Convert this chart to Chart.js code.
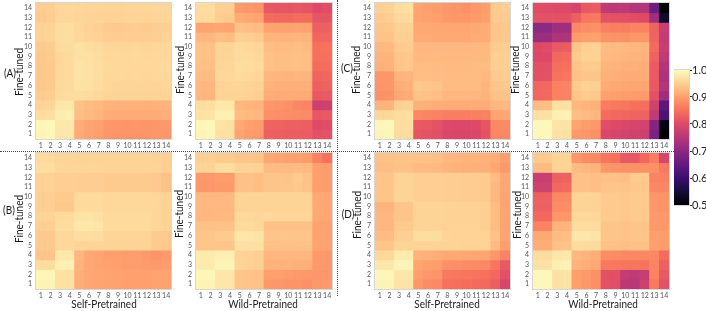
<!DOCTYPE html>
<html>
<head>
<meta charset="utf-8">
<script src="https://cdn.jsdelivr.net/npm/chart.js@4/dist/chart.umd.min.js"></script>
<style>
  html, body { margin: 0; padding: 0; background: #fff; }
  #fig { position: relative; width: 706px; height: 311px; overflow: hidden; font-family: Lato, "Open Sans", sans-serif; color: #1a1a1a; }
  canvas { position: absolute; }
  .lbl { position: absolute; white-space: nowrap; font-size: 12px; line-height: 1; transform: translate(-50%, -50%) scaleX(0.83); }
  .rot { transform: translate(-50%, -50%) rotate(-90deg) scaleX(0.83); }
  .hline { position: absolute; left: 0; top: 151px; width: 680px; border-top: 1px dotted #444; }
  .vline { position: absolute; left: 337px; top: 0; height: 296px; border-left: 1px dotted #444; }
</style>
</head>
<body>
<div id="fig"></div>
<script>
// ── Data ────────────────────────────────────────────────────────────────────
// each matrix: rows from Fine-tuned layer 14 (top) down to layer 1 (bottom),
// columns = Pretrained layer 1..14
const xLabels   = ['1','2','3','4','5','6','7','8','9','10','11','12','13','14'];
const yTicks    = [1,2,3,4,5,6,7,8,9,10,11,12,13,14];
const cbarTicks = [0.5, 0.6, 0.7, 0.8, 0.9, 1.0];

const selfA = [
  [0.948,0.950,0.958,0.960,0.958,0.956,0.956,0.955,0.955,0.956,0.957,0.956,0.958,0.958],
  [0.945,0.948,0.958,0.960,0.957,0.955,0.955,0.952,0.953,0.954,0.955,0.955,0.957,0.957],
  [0.952,0.953,0.965,0.966,0.958,0.953,0.950,0.945,0.944,0.945,0.947,0.946,0.948,0.950],
  [0.953,0.954,0.965,0.966,0.960,0.955,0.953,0.948,0.947,0.948,0.949,0.948,0.950,0.952],
  [0.945,0.947,0.962,0.964,0.968,0.966,0.963,0.958,0.957,0.957,0.958,0.957,0.958,0.960],
  [0.943,0.945,0.960,0.962,0.970,0.968,0.965,0.960,0.959,0.958,0.959,0.958,0.959,0.960],
  [0.942,0.944,0.960,0.962,0.972,0.970,0.966,0.961,0.960,0.959,0.960,0.959,0.960,0.961],
  [0.942,0.944,0.960,0.962,0.972,0.970,0.966,0.960,0.959,0.958,0.959,0.958,0.959,0.960],
  [0.943,0.945,0.961,0.963,0.970,0.968,0.964,0.958,0.957,0.957,0.957,0.956,0.957,0.958],
  [0.946,0.948,0.962,0.964,0.965,0.963,0.960,0.956,0.955,0.955,0.955,0.954,0.955,0.956],
  [0.955,0.957,0.975,0.977,0.935,0.930,0.927,0.920,0.918,0.917,0.918,0.917,0.919,0.920],
  [0.965,0.967,0.982,0.984,0.932,0.927,0.924,0.915,0.913,0.912,0.913,0.912,0.914,0.916],
  [0.992,0.994,0.976,0.978,0.915,0.905,0.902,0.893,0.890,0.889,0.890,0.889,0.891,0.893],
  [0.990,0.992,0.975,0.976,0.913,0.903,0.900,0.890,0.888,0.887,0.888,0.888,0.890,0.892]
];

const wildA = [
  [0.965,0.965,0.950,0.948,0.895,0.890,0.888,0.818,0.815,0.815,0.818,0.815,0.800,0.805],
  [0.962,0.962,0.948,0.945,0.912,0.908,0.905,0.845,0.840,0.840,0.845,0.845,0.815,0.815],
  [0.905,0.905,0.908,0.905,0.935,0.932,0.930,0.905,0.903,0.903,0.905,0.903,0.830,0.830],
  [0.925,0.925,0.932,0.930,0.950,0.948,0.945,0.922,0.920,0.920,0.922,0.920,0.838,0.838],
  [0.935,0.935,0.955,0.955,0.962,0.960,0.958,0.932,0.930,0.930,0.932,0.930,0.850,0.852],
  [0.935,0.935,0.955,0.957,0.963,0.962,0.960,0.935,0.933,0.933,0.934,0.932,0.850,0.850],
  [0.934,0.934,0.957,0.958,0.966,0.965,0.962,0.935,0.933,0.933,0.934,0.932,0.845,0.845],
  [0.930,0.930,0.960,0.960,0.962,0.960,0.958,0.925,0.923,0.922,0.923,0.922,0.835,0.838],
  [0.925,0.925,0.955,0.956,0.957,0.955,0.953,0.920,0.918,0.917,0.918,0.917,0.830,0.832],
  [0.923,0.923,0.955,0.955,0.955,0.953,0.950,0.915,0.913,0.912,0.913,0.912,0.820,0.822],
  [0.965,0.967,0.976,0.976,0.925,0.922,0.920,0.890,0.888,0.885,0.875,0.872,0.775,0.778],
  [0.970,0.972,0.986,0.986,0.930,0.927,0.925,0.885,0.883,0.882,0.880,0.878,0.818,0.820],
  [0.992,0.994,0.972,0.970,0.910,0.900,0.898,0.835,0.832,0.830,0.830,0.828,0.800,0.805],
  [0.990,0.992,0.970,0.968,0.905,0.898,0.895,0.830,0.828,0.826,0.826,0.825,0.810,0.812]
];

const selfB = [
  [0.962,0.962,0.957,0.956,0.955,0.955,0.955,0.954,0.954,0.954,0.954,0.954,0.953,0.950],
  [0.966,0.966,0.958,0.957,0.956,0.956,0.956,0.955,0.955,0.955,0.955,0.955,0.954,0.950],
  [0.952,0.952,0.950,0.950,0.948,0.948,0.948,0.946,0.946,0.946,0.946,0.946,0.944,0.935],
  [0.952,0.952,0.950,0.950,0.948,0.948,0.948,0.946,0.946,0.946,0.946,0.946,0.944,0.935],
  [0.950,0.950,0.945,0.945,0.962,0.962,0.962,0.960,0.960,0.960,0.960,0.960,0.958,0.955],
  [0.950,0.950,0.943,0.943,0.962,0.962,0.962,0.960,0.960,0.960,0.960,0.960,0.958,0.955],
  [0.955,0.955,0.962,0.962,0.972,0.972,0.970,0.962,0.962,0.962,0.962,0.962,0.958,0.955],
  [0.950,0.950,0.965,0.965,0.976,0.976,0.974,0.962,0.962,0.962,0.962,0.962,0.958,0.955],
  [0.944,0.944,0.960,0.960,0.966,0.966,0.964,0.956,0.956,0.956,0.956,0.956,0.946,0.944],
  [0.944,0.944,0.960,0.960,0.956,0.956,0.956,0.954,0.954,0.954,0.954,0.954,0.945,0.943],
  [0.940,0.940,0.976,0.976,0.925,0.910,0.905,0.900,0.900,0.898,0.897,0.895,0.888,0.895],
  [0.965,0.965,0.986,0.986,0.920,0.910,0.905,0.902,0.900,0.898,0.897,0.896,0.895,0.897],
  [0.992,0.992,0.970,0.970,0.916,0.908,0.906,0.905,0.903,0.902,0.902,0.902,0.905,0.905],
  [0.990,0.990,0.970,0.970,0.915,0.907,0.905,0.903,0.902,0.900,0.900,0.900,0.903,0.903]
];

const wildB = [
  [0.950,0.950,0.945,0.945,0.940,0.940,0.938,0.908,0.905,0.902,0.900,0.898,0.868,0.852],
  [0.955,0.955,0.965,0.965,0.955,0.955,0.953,0.930,0.928,0.928,0.930,0.928,0.900,0.898],
  [0.893,0.893,0.897,0.897,0.935,0.935,0.933,0.940,0.940,0.938,0.945,0.935,0.900,0.898],
  [0.890,0.890,0.895,0.895,0.935,0.935,0.933,0.940,0.940,0.940,0.942,0.938,0.900,0.898],
  [0.925,0.925,0.925,0.925,0.955,0.955,0.955,0.955,0.955,0.955,0.955,0.955,0.910,0.908],
  [0.925,0.925,0.925,0.925,0.955,0.955,0.955,0.955,0.955,0.955,0.955,0.955,0.910,0.908],
  [0.925,0.925,0.927,0.927,0.960,0.960,0.958,0.960,0.958,0.958,0.958,0.958,0.910,0.908],
  [0.935,0.935,0.935,0.935,0.962,0.962,0.960,0.935,0.935,0.935,0.935,0.935,0.905,0.903],
  [0.940,0.940,0.945,0.945,0.975,0.975,0.972,0.940,0.940,0.940,0.940,0.940,0.905,0.903],
  [0.940,0.940,0.940,0.940,0.970,0.970,0.968,0.935,0.935,0.935,0.935,0.935,0.905,0.903],
  [0.980,0.980,0.985,0.985,0.955,0.952,0.950,0.925,0.925,0.925,0.925,0.925,0.895,0.893],
  [0.980,0.980,0.990,0.990,0.955,0.952,0.950,0.920,0.920,0.920,0.918,0.918,0.895,0.893],
  [0.992,0.992,0.975,0.975,0.940,0.938,0.935,0.900,0.900,0.898,0.895,0.893,0.890,0.890],
  [0.990,0.990,0.975,0.975,0.940,0.938,0.935,0.893,0.890,0.888,0.888,0.885,0.893,0.895]
];

const selfC = [
  [0.950,0.952,0.965,0.968,0.905,0.900,0.898,0.890,0.888,0.885,0.890,0.898,0.945,0.948],
  [0.945,0.948,0.960,0.962,0.905,0.902,0.900,0.893,0.892,0.892,0.895,0.900,0.945,0.946],
  [0.940,0.942,0.952,0.952,0.910,0.910,0.908,0.908,0.908,0.908,0.910,0.912,0.940,0.942],
  [0.937,0.938,0.950,0.950,0.912,0.912,0.910,0.910,0.910,0.910,0.912,0.913,0.940,0.942],
  [0.925,0.927,0.945,0.947,0.925,0.925,0.925,0.925,0.925,0.925,0.926,0.926,0.946,0.948],
  [0.920,0.922,0.940,0.942,0.926,0.927,0.927,0.926,0.926,0.926,0.927,0.927,0.950,0.950],
  [0.918,0.920,0.940,0.942,0.930,0.930,0.930,0.928,0.928,0.928,0.929,0.929,0.950,0.950],
  [0.890,0.892,0.920,0.922,0.932,0.932,0.931,0.930,0.930,0.930,0.930,0.925,0.945,0.947],
  [0.888,0.890,0.915,0.918,0.942,0.940,0.938,0.930,0.930,0.930,0.930,0.922,0.940,0.942],
  [0.885,0.887,0.910,0.913,0.937,0.935,0.933,0.925,0.925,0.925,0.925,0.920,0.935,0.937],
  [0.920,0.922,0.950,0.952,0.918,0.917,0.915,0.913,0.913,0.913,0.914,0.914,0.925,0.927],
  [0.958,0.960,0.965,0.966,0.875,0.872,0.868,0.865,0.865,0.865,0.866,0.868,0.905,0.908],
  [0.992,0.994,0.965,0.966,0.820,0.818,0.812,0.800,0.798,0.798,0.800,0.815,0.875,0.878],
  [0.990,0.992,0.963,0.964,0.815,0.813,0.808,0.795,0.793,0.793,0.795,0.812,0.873,0.876]
];

const wildC = [
  [0.805,0.803,0.800,0.800,0.790,0.820,0.825,0.760,0.758,0.758,0.745,0.745,0.660,0.500],
  [0.812,0.810,0.810,0.810,0.830,0.855,0.860,0.812,0.810,0.808,0.805,0.800,0.720,0.540],
  [0.700,0.700,0.720,0.722,0.875,0.882,0.885,0.868,0.866,0.865,0.870,0.870,0.832,0.770],
  [0.715,0.718,0.738,0.740,0.895,0.900,0.902,0.888,0.886,0.885,0.890,0.890,0.835,0.765],
  [0.800,0.802,0.822,0.825,0.940,0.950,0.952,0.930,0.928,0.926,0.925,0.922,0.842,0.770],
  [0.798,0.800,0.840,0.842,0.945,0.952,0.952,0.928,0.926,0.924,0.922,0.920,0.832,0.760],
  [0.808,0.810,0.848,0.850,0.940,0.945,0.945,0.922,0.920,0.918,0.917,0.915,0.822,0.745],
  [0.810,0.812,0.853,0.855,0.935,0.940,0.940,0.918,0.916,0.914,0.913,0.912,0.820,0.735],
  [0.838,0.840,0.868,0.870,0.945,0.952,0.950,0.912,0.910,0.908,0.907,0.906,0.820,0.745],
  [0.838,0.840,0.868,0.870,0.940,0.945,0.942,0.902,0.900,0.898,0.897,0.896,0.810,0.720],
  [0.930,0.932,0.968,0.970,0.925,0.922,0.918,0.862,0.858,0.855,0.850,0.848,0.780,0.640],
  [0.968,0.970,0.985,0.987,0.932,0.928,0.925,0.845,0.840,0.838,0.835,0.832,0.760,0.620],
  [0.995,0.996,0.972,0.972,0.905,0.898,0.893,0.805,0.800,0.795,0.790,0.785,0.690,0.515],
  [0.994,0.995,0.970,0.970,0.895,0.890,0.885,0.795,0.790,0.785,0.780,0.778,0.675,0.500]
];

const selfD = [
  [0.935,0.935,0.937,0.937,0.935,0.935,0.933,0.925,0.923,0.920,0.920,0.918,0.912,0.898],
  [0.933,0.933,0.935,0.935,0.928,0.928,0.926,0.922,0.920,0.918,0.918,0.916,0.908,0.893],
  [0.940,0.940,0.955,0.955,0.950,0.950,0.950,0.948,0.948,0.947,0.947,0.946,0.930,0.910],
  [0.940,0.940,0.955,0.955,0.950,0.950,0.950,0.948,0.948,0.947,0.947,0.946,0.925,0.908],
  [0.940,0.940,0.955,0.955,0.950,0.950,0.950,0.948,0.948,0.947,0.947,0.946,0.925,0.905],
  [0.922,0.922,0.940,0.940,0.955,0.955,0.955,0.953,0.953,0.952,0.952,0.950,0.930,0.905],
  [0.925,0.925,0.940,0.940,0.955,0.955,0.955,0.953,0.953,0.952,0.952,0.950,0.930,0.905],
  [0.925,0.925,0.945,0.945,0.955,0.955,0.955,0.953,0.953,0.952,0.952,0.950,0.930,0.905],
  [0.930,0.930,0.950,0.950,0.966,0.966,0.964,0.956,0.955,0.955,0.955,0.953,0.935,0.905],
  [0.940,0.940,0.955,0.955,0.955,0.955,0.955,0.955,0.954,0.953,0.953,0.952,0.930,0.900],
  [0.960,0.960,0.980,0.980,0.920,0.918,0.915,0.910,0.910,0.908,0.907,0.905,0.890,0.870],
  [0.975,0.975,0.990,0.990,0.905,0.900,0.897,0.885,0.883,0.880,0.878,0.876,0.855,0.820],
  [0.992,0.992,0.975,0.975,0.900,0.890,0.887,0.860,0.858,0.855,0.853,0.850,0.840,0.808],
  [0.990,0.990,0.972,0.972,0.890,0.880,0.877,0.850,0.848,0.845,0.843,0.840,0.828,0.790]
];

const wildD = [
  [0.945,0.945,0.955,0.955,0.890,0.880,0.875,0.855,0.850,0.820,0.818,0.840,0.862,0.790],
  [0.930,0.930,0.955,0.955,0.930,0.925,0.920,0.890,0.888,0.885,0.885,0.885,0.885,0.860],
  [0.772,0.772,0.830,0.832,0.935,0.935,0.932,0.935,0.935,0.932,0.945,0.945,0.870,0.868],
  [0.780,0.780,0.840,0.842,0.935,0.935,0.932,0.940,0.940,0.938,0.942,0.942,0.875,0.873],
  [0.830,0.830,0.875,0.877,0.955,0.955,0.953,0.945,0.945,0.943,0.945,0.945,0.890,0.888],
  [0.830,0.830,0.880,0.882,0.955,0.955,0.953,0.945,0.945,0.943,0.945,0.945,0.890,0.888],
  [0.840,0.840,0.890,0.892,0.960,0.960,0.958,0.945,0.945,0.943,0.945,0.945,0.895,0.893],
  [0.870,0.870,0.920,0.922,0.965,0.965,0.963,0.940,0.940,0.938,0.940,0.940,0.895,0.893],
  [0.910,0.910,0.930,0.932,0.975,0.975,0.972,0.940,0.940,0.938,0.940,0.940,0.900,0.898],
  [0.915,0.915,0.935,0.937,0.965,0.965,0.963,0.935,0.935,0.933,0.935,0.935,0.900,0.898],
  [0.965,0.965,0.975,0.977,0.925,0.920,0.915,0.880,0.878,0.875,0.875,0.873,0.875,0.845],
  [0.970,0.970,0.985,0.987,0.920,0.915,0.910,0.860,0.858,0.855,0.855,0.853,0.870,0.830],
  [0.995,0.995,0.970,0.972,0.900,0.895,0.885,0.810,0.808,0.765,0.760,0.770,0.870,0.820],
  [0.994,0.994,0.970,0.972,0.900,0.893,0.883,0.810,0.806,0.755,0.752,0.778,0.860,0.810]
];

// ── Colour map (magma, 0.5 → 1.0) ───────────────────────────────────────────
const MAGMA = ['#000004','#140e36','#3b0f70','#641a80','#8c2981','#b73779',
               '#de4968','#f7705c','#fe9f6d','#fecf92','#fcfdbf'];
const VMIN = 0.5, VMAX = 1.0;

function hexRgb(h) {
  return [1, 3, 5].map(i => parseInt(h.substr(i, 2), 16));
}
function magma(v) {
  const t = Math.min(1, Math.max(0, (v - VMIN) / (VMAX - VMIN))) * 10;
  const i = Math.min(9, Math.floor(t));
  const f = t - i;
  const a = hexRgb(MAGMA[i]), b = hexRgb(MAGMA[i + 1]);
  const c = a.map((x, k) => Math.round(x + (b[k] - x) * f));
  return `rgb(${c[0]},${c[1]},${c[2]})`;
}

// ── Layout ──────────────────────────────────────────────────────────────────
const fig = document.getElementById('fig');
const Y_AXIS_W = 30, X_AXIS_H = 14, PAD_TOP = 9, PAD_RIGHT = 4;

const panels = [
  { data: selfA, left: 36,  top: 3,   w: 135, h: 136 },
  { data: wildA, left: 196, top: 3,   w: 136, h: 136 },
  { data: selfC, left: 375, top: 3,   w: 135, h: 136 },
  { data: wildC, left: 533, top: 3,   w: 136, h: 136 },
  { data: selfB, left: 36,  top: 153, w: 135, h: 136 },
  { data: wildB, left: 196, top: 153, w: 136, h: 136 },
  { data: selfD, left: 375, top: 153, w: 135, h: 136 },
  { data: wildD, left: 533, top: 153, w: 136, h: 136 }
];

const texts = [
  { t: '(A)', x: 10,  y: 73 },  { t: '(C)', x: 347, y: 68 },
  { t: '(B)', x: 9,   y: 210 }, { t: '(D)', x: 348, y: 214 },
  { t: 'Fine-tuned', x: 19,  y: 72,  rot: true },
  { t: 'Fine-tuned', x: 180, y: 70,  rot: true },
  { t: 'Fine-tuned', x: 356, y: 70,  rot: true },
  { t: 'Fine-tuned', x: 515, y: 70,  rot: true },
  { t: 'Fine-tuned', x: 19,  y: 219, rot: true },
  { t: 'Fine-tuned', x: 179, y: 214, rot: true },
  { t: 'Fine-tuned', x: 357, y: 215, rot: true },
  { t: 'Fine-tuned', x: 517, y: 215, rot: true },
  { t: 'Self-Pretrained', x: 104, y: 304 },
  { t: 'Wild-Pretrained', x: 263, y: 304 },
  { t: 'Self-Pretrained', x: 447, y: 304 },
  { t: 'Wild-Pretrained', x: 603, y: 304 }
];

// thin grey frame round each plot area
const framePlugin = {
  id: 'frame',
  afterDraw(chart) {
    const { ctx, chartArea: a } = chart;
    ctx.save();
    ctx.strokeStyle = '#d6d6d6';
    ctx.lineWidth = 1;
    ctx.strokeRect(Math.round(a.left) - 0.5, Math.round(a.top) - 0.5,
                   Math.round(a.width) + 1, Math.round(a.height) + 1);
    ctx.restore();
  }
};

function addCanvas(left, top, w, h) {
  const c = document.createElement('canvas');
  c.width = w; c.height = h;
  c.style.left = left + 'px'; c.style.top = top + 'px';
  c.style.width = w + 'px'; c.style.height = h + 'px';
  fig.appendChild(c);
  return c;
}

// ── Heatmaps: one floating-bar dataset per fine-tuned row ───────────────────
function heatmap(p) {
  const cv = addCanvas(p.left - Y_AXIS_W, p.top - PAD_TOP,
                       Y_AXIS_W + p.w + PAD_RIGHT, PAD_TOP + p.h + X_AXIS_H);
  const n = p.data.length;
  const datasets = p.data.map((row, r) => {
    const layer = n - r;
    return {
      data: row.map(() => [layer - 0.5, layer + 0.5]),
      backgroundColor: row.map(magma),
      borderWidth: 0,
      barPercentage: 1,
      categoryPercentage: 1,
      grouped: false
    };
  });
  const tickFont = { family: 'Lato', size: 7 };
  new Chart(cv, {
    type: 'bar',
    data: { labels: xLabels, datasets },
    options: {
      responsive: false,
      animation: false,
      events: [],
      layout: { padding: { top: PAD_TOP, right: PAD_RIGHT, left: 0, bottom: 0 } },
      plugins: { legend: { display: false }, tooltip: { enabled: false } },
      scales: {
        x: {
          type: 'category',
          grid: { display: false, drawTicks: false },
          border: { display: false },
          ticks: { font: tickFont, color: '#555', padding: 3, maxRotation: 0, autoSkip: false },
          afterFit: s => { s.height = X_AXIS_H; }
        },
        y: {
          type: 'linear',
          min: 0.5, max: 14.5,
          grid: { display: false, drawTicks: false },
          border: { display: false },
          afterBuildTicks: s => { s.ticks = yTicks.map(v => ({ value: v })); },
          ticks: { font: tickFont, color: '#555', padding: 4, autoSkip: false },
          afterFit: s => { s.width = Y_AXIS_W; }
        }
      }
    },
    plugins: [framePlugin]
  });
}

panels.forEach(heatmap);

// ── Colour bar ──────────────────────────────────────────────────────────────
(function colorbar() {
  const CB = { left: 674, top: 70, w: 15, h: 135, axisW: 32, pad: 9 };
  const cv = addCanvas(CB.left, CB.top - CB.pad, CB.w + CB.axisW, CB.h + 2 * CB.pad);
  new Chart(cv, {
    type: 'bar',
    data: {
      labels: [''],
      datasets: [{
        data: [[VMIN, VMAX]],
        borderWidth: 0,
        barPercentage: 1,
        categoryPercentage: 1,
        backgroundColor: ctx => {
          const { chart } = ctx;
          const a = chart.chartArea;
          if (!a) return MAGMA[8];
          const g = chart.ctx.createLinearGradient(0, a.bottom, 0, a.top);
          MAGMA.forEach((c, i) => g.addColorStop(i / 10, c));
          return g;
        }
      }]
    },
    options: {
      responsive: false,
      animation: false,
      events: [],
      layout: { padding: { top: CB.pad, bottom: CB.pad, left: 0, right: 0 } },
      plugins: { legend: { display: false }, tooltip: { enabled: false } },
      scales: {
        x: { display: false },
        y: {
          position: 'right',
          min: VMIN, max: VMAX,
          border: { display: false },
          grid: { drawOnChartArea: false, drawTicks: true, tickLength: 3, color: '#333' },
          afterBuildTicks: s => { s.ticks = cbarTicks.map(v => ({ value: v })); },
          ticks: { font: { family: 'Lato', size: 11 }, color: '#222', padding: 0, autoSkip: false,
                   callback: v => Number(v).toFixed(1) },
          afterFit: s => { s.width = CB.axisW; }
        }
      }
    },
    plugins: [framePlugin]
  });
})();

// ── Texts and divider lines ─────────────────────────────────────────────────
texts.forEach(o => {
  const d = document.createElement('div');
  d.className = 'lbl' + (o.rot ? ' rot' : '');
  d.textContent = o.t;
  d.style.left = o.x + 'px';
  d.style.top = o.y + 'px';
  fig.appendChild(d);
});
['hline', 'vline'].forEach(cls => {
  const d = document.createElement('div');
  d.className = cls;
  fig.appendChild(d);
});
</script>
</body>
</html>
